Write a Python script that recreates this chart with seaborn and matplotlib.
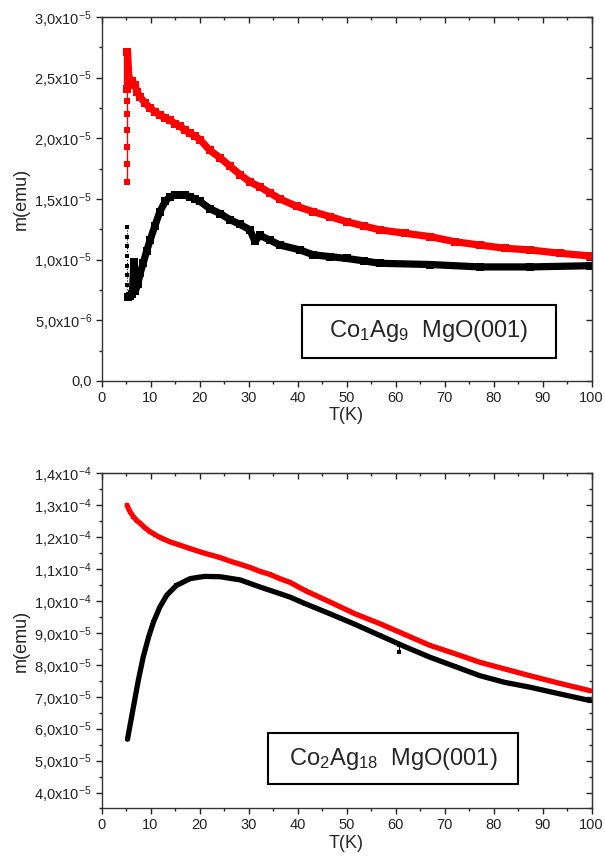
import numpy as np
import matplotlib
matplotlib.use("Agg")
import matplotlib.pyplot as plt
import seaborn as sns
from matplotlib.ticker import MultipleLocator, FuncFormatter
from matplotlib.patches import Rectangle

# Co1Ag9 MgO(001): field cooled (red) and zero field cooled (black), m in emu
fc1_drop_T = [5.2, 5.2, 5.2, 5.2, 5.2, 5.2, 5.2]
fc1_drop_m = [1.64e-5, 1.79e-5, 1.93e-5, 2.07e-5, 2.20e-5, 2.31e-5, 2.41e-5]
fc1_T = [5.3, 5.3, 5.5, 5.8, 6.3, 6.8, 7.3, 7.9, 8.9, 9.9, 10.9, 11.9, 13.0, 14.0,
         15.0, 16.0, 17.0, 18.1, 19.0, 20.1, 22.1, 24.2, 26.2, 28.3, 30.3, 32.3,
         34.4, 36.4, 39.8, 43.2, 46.6, 50.0, 53.5, 56.8, 61.9, 67.0, 72.1, 77.2,
         82.3, 87.4, 93.5, 99.7]
fc1_m = [2.41e-5, 2.71e-5, 2.55e-5, 2.45e-5, 2.47e-5, 2.44e-5, 2.38e-5, 2.34e-5,
         2.29e-5, 2.25e-5, 2.22e-5, 2.19e-5, 2.17e-5, 2.15e-5, 2.12e-5, 2.10e-5,
         2.07e-5, 2.04e-5, 2.02e-5, 1.99e-5, 1.90e-5, 1.84e-5, 1.77e-5, 1.70e-5,
         1.64e-5, 1.60e-5, 1.55e-5, 1.50e-5, 1.44e-5, 1.395e-5, 1.355e-5, 1.313e-5,
         1.278e-5, 1.245e-5, 1.218e-5, 1.19e-5, 1.148e-5, 1.12e-5, 1.094e-5,
         1.08e-5, 1.053e-5, 1.03e-5]

zfc1_drop_T = [5.3, 5.3, 5.3, 5.3, 5.3, 5.3, 5.3, 5.3]
zfc1_drop_m = [1.27e-5, 1.19e-5, 1.11e-5, 1.03e-5, 0.95e-5, 0.87e-5, 0.79e-5, 0.71e-5]
zfc1_T = [5.4, 5.8, 6.3, 6.6, 6.9, 7.4, 7.9, 8.5, 9.2, 9.9, 10.9, 11.9, 13.0, 14.0,
          15.0, 16.0, 17.0, 18.1, 19.0, 20.1, 22.1, 24.2, 26.2, 28.3, 30.3, 31.3,
          32.3, 34.4, 36.4, 40.5, 43.2, 46.6, 50.0, 53.5, 56.8, 67.0, 77.2, 87.4,
          99.7]
zfc1_m = [0.69e-5, 0.70e-5, 0.72e-5, 0.98e-5, 0.74e-5, 0.80e-5, 0.89e-5, 0.97e-5,
          1.07e-5, 1.16e-5, 1.28e-5, 1.395e-5, 1.48e-5, 1.52e-5, 1.53e-5, 1.53e-5,
          1.53e-5, 1.52e-5, 1.50e-5, 1.48e-5, 1.42e-5, 1.38e-5, 1.33e-5, 1.29e-5,
          1.245e-5, 1.15e-5, 1.20e-5, 1.16e-5, 1.12e-5, 1.08e-5, 1.04e-5, 1.025e-5,
          1.01e-5, 0.99e-5, 0.97e-5, 0.96e-5, 0.94e-5, 0.94e-5, 0.95e-5]

# Co2Ag18 MgO(001)
fc2_T = [5.2, 5.8, 6.5, 7.2, 7.9, 8.9, 9.9, 10.9, 11.9, 13.0, 14.0, 16.0, 18.1,
         20.1, 22.1, 24.2, 26.2, 28.3, 30.3, 32.3, 34.4, 36.4, 38.5, 41.5, 46.6,
         51.7, 56.8, 61.9, 67.0, 72.1, 77.2, 82.3, 87.4, 93.5, 99.7]
fc2_m = [1.300e-4, 1.280e-4, 1.264e-4, 1.252e-4, 1.243e-4, 1.229e-4, 1.217e-4,
         1.208e-4, 1.199e-4, 1.192e-4, 1.185e-4, 1.175e-4, 1.164e-4, 1.154e-4,
         1.145e-4, 1.136e-4, 1.125e-4, 1.115e-4, 1.105e-4, 1.093e-4, 1.083e-4,
         1.070e-4, 1.058e-4, 1.033e-4, 9.97e-5, 9.60e-5, 9.29e-5, 8.95e-5, 8.61e-5,
         8.35e-5, 8.08e-5, 7.87e-5, 7.66e-5, 7.42e-5, 7.19e-5]

zfc2_T = [5.3, 6.5, 7.5, 8.5, 9.6, 10.6, 11.9, 13.3, 15.3, 16.0, 17.4, 18.1, 20.1,
          21.1, 24.2, 28.3, 32.3, 36.4, 38.5, 41.5, 46.6, 51.7, 56.8, 61.9, 67.0,
          72.1, 77.2, 82.3, 87.4, 93.5, 99.7]
zfc2_m = [5.67e-5, 6.67e-5, 7.51e-5, 8.24e-5, 8.87e-5, 9.34e-5, 9.81e-5, 1.018e-4,
          1.049e-4, 1.054e-4, 1.065e-4, 1.070e-4, 1.075e-4, 1.077e-4, 1.076e-4,
          1.066e-4, 1.044e-4, 1.023e-4, 1.012e-4, 9.92e-5, 9.60e-5, 9.27e-5,
          8.92e-5, 8.57e-5, 8.24e-5, 7.95e-5, 7.66e-5, 7.45e-5, 7.30e-5, 7.09e-5,
          6.88e-5]
zfc2_spike_T = [60.8, 60.8]
zfc2_spike_m = [8.62e-5, 8.40e-5]

sns.set_style("ticks")
plt.rcParams["font.family"] = ["Liberation Sans", "DejaVu Sans"]
plt.rcParams["mathtext.fontset"] = "custom"
plt.rcParams["mathtext.rm"] = "Liberation Sans"
plt.rcParams["mathtext.it"] = "Liberation Sans:italic"
plt.rcParams["mathtext.default"] = "regular"


def sci_label(v, pos):
    if abs(v) < 1e-12:
        return "0,0"
    e = int(np.floor(np.log10(abs(v)) + 1e-9))
    m = round(v / 10 ** e, 1)
    if m >= 10:
        m, e = m / 10, e + 1
    return ("%.1f" % m).replace(".", ",") + "x10$^{%d}$" % e


def style_axes(ax, ylim, ymajor, yminor):
    ax.set_xlim(0, 100)
    ax.set_ylim(*ylim)
    for sp in ax.spines.values():
        sp.set_visible(True)
        sp.set_linewidth(1.0)
        sp.set_color("#333333")
    ax.xaxis.set_major_locator(MultipleLocator(10))
    ax.xaxis.set_minor_locator(MultipleLocator(5))
    ax.yaxis.set_major_locator(MultipleLocator(ymajor))
    ax.yaxis.set_minor_locator(MultipleLocator(yminor))
    ax.yaxis.set_major_formatter(FuncFormatter(sci_label))
    ax.tick_params(which="both", direction="out", top=False, right=False,
                   labelsize=10.5, colors="#222222", pad=2.5)
    ax.tick_params(which="major", length=4.5, width=1)
    ax.tick_params(which="minor", length=2.5, width=1)
    # mirrored inward ticks on top and right, like the original software
    top = ax.secondary_xaxis("top")
    top.xaxis.set_major_locator(MultipleLocator(10))
    top.xaxis.set_minor_locator(MultipleLocator(5))
    top.tick_params(which="both", direction="in", labeltop=False)
    top.tick_params(which="major", length=4.5, width=1)
    top.tick_params(which="minor", length=2.5, width=1)
    right = ax.secondary_yaxis("right")
    right.yaxis.set_major_locator(MultipleLocator(ymajor))
    right.yaxis.set_minor_locator(MultipleLocator(yminor))
    right.tick_params(which="both", direction="in", labelright=False)
    right.tick_params(which="major", length=4.5, width=1)
    right.tick_params(which="minor", length=2.5, width=1)
    ax.set_xlabel("T(K)", fontsize=13, labelpad=2)
    ax.set_ylabel("m(emu)", fontsize=13, labelpad=3)


def label_box(ax, x0, y0, w, h, text):
    ax.add_patch(Rectangle((x0, y0), w, h, transform=ax.transAxes, fill=True,
                           facecolor="white", edgecolor="black", lw=1.5, zorder=5))
    ax.text(x0 + w / 2, y0 + h / 2, text, transform=ax.transAxes, ha="center",
            va="center", fontsize=17, zorder=6)


fig = plt.figure(figsize=(6.05, 8.61), dpi=100)
ax1 = fig.add_axes([0.1678, 0.5575, 0.81, 0.4228])
ax2 = fig.add_axes([0.1678, 0.061, 0.81, 0.3893])

# top panel
sns.lineplot(x=fc1_drop_T, y=fc1_drop_m, ax=ax1, sort=False, estimator=None,
             color="red", lw=1, marker="s", markersize=4, markeredgewidth=0)
sns.lineplot(x=fc1_T, y=fc1_m, ax=ax1, sort=False, estimator=None,
             color="red", lw=5.2, marker="s", markersize=5.5, markeredgewidth=0)
sns.lineplot(x=zfc1_drop_T, y=zfc1_drop_m, ax=ax1, sort=False, estimator=None,
             color="black", lw=0.8, ls=":", marker="s", markersize=3.5,
             markeredgewidth=0)
sns.lineplot(x=zfc1_T, y=zfc1_m, ax=ax1, sort=False, estimator=None,
             color="black", lw=5.2, marker="s", markersize=5.5, markeredgewidth=0)
style_axes(ax1, (0, 3.0e-5), 5e-6, 2.5e-6)
label_box(ax1, 0.409, 0.063, 0.519, 0.146, "Co$_1$Ag$_9$  MgO(001)")

# bottom panel
sns.lineplot(x=fc2_T, y=fc2_m, ax=ax2, sort=False, estimator=None,
             color="red", lw=3.8, marker="s", markersize=3.5, markeredgewidth=0)
sns.lineplot(x=zfc2_T, y=zfc2_m, ax=ax2, sort=False, estimator=None,
             color="black", lw=3.8, marker="s", markersize=3.5, markeredgewidth=0)
sns.lineplot(x=zfc2_spike_T, y=zfc2_spike_m, ax=ax2, sort=False, estimator=None,
             color="black", lw=0.8, marker="s", markersize=2.5, markeredgewidth=0)
style_axes(ax2, (3.5e-5, 1.4e-4), 1e-5, 5e-6)
label_box(ax2, 0.340, 0.073, 0.510, 0.152, "Co$_2$Ag$_{18}$  MgO(001)")

for ax in (ax1, ax2):
    if ax.get_legend() is not None:
        ax.get_legend().remove()

fig.savefig("out.png", dpi=100)
